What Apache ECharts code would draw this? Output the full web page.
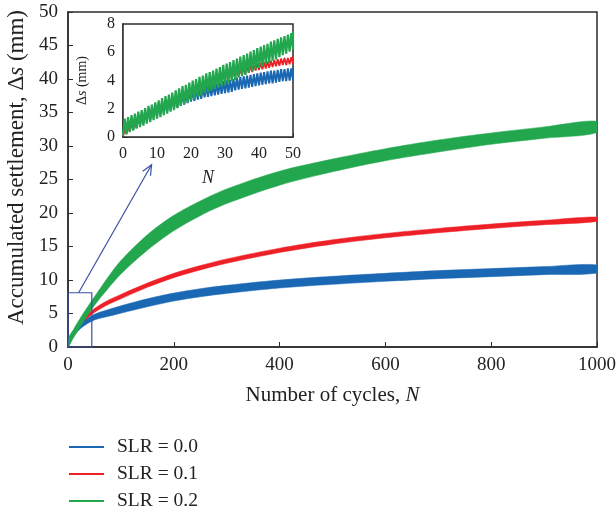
<!DOCTYPE html>
<html>
<head>
<meta charset="utf-8">
<script src="https://cdn.jsdelivr.net/npm/echarts@6/dist/echarts.min.js"></script>
<style>
  html, body { margin: 0; padding: 0; background: #fff; }
  #chart { width: 616px; height: 511px; }
</style>
</head>
<body>
<div id="chart"></div>
<script>
// main plot: band envelopes (lower / upper) read at these cycle counts
var mainN = [0, 10, 25, 50, 75, 100, 150, 200, 250, 300, 400, 500, 600, 700, 800, 900, 1000];
var greenLow = [0.0, 1.33, 3.25, 6.2, 8.65, 10.9, 14.45, 17.35, 19.6, 21.4, 24.15, 26.15, 27.8, 29.1, 30.25, 31.15, 32.0];
var greenUp = [1.2, 2.58, 4.55, 7.5, 10.35, 12.9, 16.75, 19.65, 21.8, 23.6, 26.25, 28.05, 29.6, 30.9, 31.95, 32.85, 33.7];
var redLow = [0.0, 1.7, 3.45, 5.15, 6.3, 7.2, 8.9, 10.35, 11.5, 12.5, 14.1, 15.35, 16.3, 17.05, 17.7, 18.25, 18.75];
var redUp = [0.55, 2.3, 4.05, 5.75, 6.95, 7.85, 9.55, 11.0, 12.15, 13.15, 14.75, 16.0, 16.95, 17.7, 18.35, 18.9, 19.4];
var blueLow = [0.0, 1.5, 2.85, 4.03, 4.55, 5.05, 6.0, 6.85, 7.5, 8.0, 8.8, 9.35, 9.8, 10.2, 10.5, 10.8, 11.05];
var blueUp = [1.0, 2.4, 3.65, 4.88, 5.55, 6.15, 7.2, 8.05, 8.7, 9.2, 10.0, 10.55, 11.0, 11.4, 11.7, 12.0, 12.25];

// inset: trough / peak of each cycle, N = 0..50
var gTrough = [0.1, 0.2, 0.35, 0.45, 0.6, 0.7, 0.8, 0.95, 1.05, 1.2, 1.3, 1.4, 1.55, 1.65, 1.8, 1.9, 2.05, 2.2, 2.3, 2.45, 2.6, 2.7, 2.85, 2.95, 3.1, 3.2, 3.3, 3.4, 3.5, 3.6, 3.7, 3.8, 3.95, 4.05, 4.2, 4.3, 4.4, 4.55, 4.65, 4.8, 4.9, 5.0, 5.15, 5.25, 5.4, 5.5, 5.65, 5.8, 5.9, 6.05, 6.2];
var gPeak = [1.3, 1.4, 1.55, 1.65, 1.8, 1.9, 2.05, 2.2, 2.3, 2.45, 2.6, 2.75, 2.9, 3.0, 3.15, 3.3, 3.45, 3.6, 3.7, 3.85, 4.0, 4.1, 4.25, 4.35, 4.5, 4.6, 4.7, 4.85, 4.95, 5.1, 5.2, 5.3, 5.45, 5.55, 5.7, 5.8, 5.9, 6.05, 6.15, 6.3, 6.4, 6.5, 6.6, 6.75, 6.85, 6.95, 7.05, 7.15, 7.25, 7.35, 7.45];
var bTrough = [0.1, 0.25, 0.4, 0.5, 0.65, 0.8, 0.95, 1.1, 1.2, 1.35, 1.5, 1.6, 1.7, 1.8, 1.9, 2.0, 2.1, 2.2, 2.3, 2.4, 2.5, 2.55, 2.65, 2.7, 2.8, 2.85, 2.9, 2.95, 3.0, 3.05, 3.1, 3.15, 3.2, 3.3, 3.35, 3.4, 3.45, 3.5, 3.55, 3.6, 3.65, 3.7, 3.75, 3.8, 3.8, 3.85, 3.9, 3.95, 3.95, 4.0, 4.05];
var bPeak = [1.0, 1.15, 1.3, 1.4, 1.55, 1.7, 1.85, 2.0, 2.1, 2.25, 2.4, 2.5, 2.6, 2.7, 2.8, 2.9, 3.0, 3.1, 3.15, 3.25, 3.3, 3.4, 3.45, 3.5, 3.6, 3.65, 3.7, 3.8, 3.85, 3.95, 4.0, 4.05, 4.1, 4.2, 4.25, 4.3, 4.35, 4.4, 4.45, 4.5, 4.55, 4.6, 4.65, 4.7, 4.7, 4.75, 4.8, 4.8, 4.85, 4.85, 4.9];
var rTrough = [0.05, 0.2, 0.4, 0.55, 0.75, 0.9, 1.05, 1.2, 1.4, 1.55, 1.7, 1.85, 2.0, 2.1, 2.25, 2.4, 2.5, 2.65, 2.75, 2.9, 3.0, 3.1, 3.2, 3.3, 3.4, 3.5, 3.6, 3.7, 3.8, 3.9, 4.0, 4.1, 4.15, 4.25, 4.3, 4.4, 4.45, 4.55, 4.6, 4.7, 4.75, 4.8, 4.85, 4.9, 4.95, 5.0, 5.05, 5.1, 5.1, 5.15, 5.2];
var rPeak = [0.6, 0.75, 0.95, 1.1, 1.3, 1.5, 1.65, 1.8, 2.0, 2.15, 2.3, 2.4, 2.55, 2.65, 2.8, 2.9, 3.0, 3.15, 3.25, 3.4, 3.5, 3.6, 3.7, 3.8, 3.9, 4.0, 4.1, 4.2, 4.3, 4.4, 4.5, 4.6, 4.65, 4.75, 4.8, 4.9, 4.95, 5.05, 5.1, 5.2, 5.25, 5.3, 5.35, 5.4, 5.45, 5.5, 5.55, 5.6, 5.6, 5.65, 5.7];

var names = ['SLR = 0.0', 'SLR = 0.1', 'SLR = 0.2'];
var colors = ['#1a67b3', '#ee2027', '#22a74f'];

// zoom box on the main plot and the arrow pointing to the inset (data units)
var zoomBox = [45, 8.1];
var arrowFrom = [20, 8.1];
var arrowTo = [158, 27.2];

var FONT = '"Liberation Serif", "DejaVu Serif", serif';
var AXIS = '#2b2b2b';

function zigzag(trough, peak) {
    var pts = [];
    for (var i = 0; i < trough.length; i++) {
        pts.push([i, trough[i]]);
        pts.push([Math.min(i + 0.5, 50), peak[i]]);
    }
    return pts;
}

// closed outline: upper edge forwards, lower edge back
function band(lower, upper, color) {
    return function (params, api) {
        var pts = [];
        for (var i = 0; i < mainN.length; i++) {
            pts.push(api.coord([mainN[i], upper[i]]));
        }
        for (var j = mainN.length - 1; j >= 0; j--) {
            pts.push(api.coord([mainN[j], lower[j]]));
        }
        return {
            type: 'polygon',
            shape: {points: pts, smooth: 0.3},
            style: {fill: color, stroke: color, lineWidth: 0.5}
        };
    };
}

function annotation(params, api) {
    var c = '#3b4fa3';
    var p0 = api.coord([0, 0]);
    var p1 = api.coord([zoomBox[0], 0]);
    var p2 = api.coord(zoomBox);
    var p3 = api.coord([0, zoomBox[1]]);
    var a = api.coord(arrowFrom);
    var b = api.coord(arrowTo);
    var ang = Math.atan2(b[1] - a[1], b[0] - a[0]);
    var len = 11, spread = 0.42;
    var h1 = [b[0] - len * Math.cos(ang - spread), b[1] - len * Math.sin(ang - spread)];
    var h2 = [b[0] - len * Math.cos(ang + spread), b[1] - len * Math.sin(ang + spread)];
    return {
        type: 'group',
        children: [
            {type: 'polyline', shape: {points: [p0, p1, p2, p3, p0]}, style: {stroke: c, lineWidth: 1.2, fill: null}},
            {type: 'line', shape: {x1: a[0], y1: a[1], x2: b[0], y2: b[1]}, style: {stroke: c, lineWidth: 1.2}},
            {type: 'polyline', shape: {points: [h1, b, h2]}, style: {stroke: c, lineWidth: 1.2, fill: null}}
        ]
    };
}

var chart = echarts.init(document.getElementById('chart'));

var tickLabel = {fontFamily: FONT, fontSize: 19, color: '#222'};
var insetLabel = {fontFamily: FONT, fontSize: 16, color: '#222'};
function plain(v) { return String(v); }

var series = [];
var envs = [[blueLow, blueUp], [redLow, redUp], [greenLow, greenUp]];
for (var k = 0; k < 3; k++) {
    series.push({
        name: names[k], type: 'custom', xAxisIndex: 0, yAxisIndex: 0, clip: true, data: [[0, 0]],
        itemStyle: {color: colors[k]}, renderItem: band(envs[k][0], envs[k][1], colors[k]), z: 2 + k, silent: true
    });
}
series.push({type: 'custom', xAxisIndex: 0, yAxisIndex: 0, data: [[0, 0]], renderItem: annotation, z: 6, silent: true});
var inset = [[bTrough, bPeak], [rTrough, rPeak], [gTrough, gPeak]];
var insetWidth = [2, 1.8, 2.2];
for (var m = 0; m < 3; m++) {
    series.push({
        name: names[m], type: 'line', xAxisIndex: 1, yAxisIndex: 1, data: zigzag(inset[m][0], inset[m][1]),
        showSymbol: false, symbol: 'none', lineStyle: {color: colors[m], width: insetWidth[m]}, z: 7 + m, silent: true
    });
}

chart.setOption({
    animation: false,
    backgroundColor: '#fff',
    textStyle: {fontFamily: FONT},
    grid: [
        {left: 68, right: 19, top: 12, bottom: 164, show: true, borderColor: AXIS, borderWidth: 1.5,
            outerBoundsMode: 'none', containLabel: false},
        {left: 123, right: 323, top: 24, bottom: 374, show: true, borderColor: AXIS, borderWidth: 1.5,
            backgroundColor: '#fff', z: 5, outerBoundsMode: 'none', containLabel: false}
    ],
    legend: {
        orient: 'vertical',
        left: 69,
        top: 437,
        height: 120,
        padding: 0,
        itemWidth: 35,
        itemHeight: 2,
        itemGap: 7,
        icon: 'rect',
        textStyle: {fontFamily: FONT, fontSize: 19.5, color: '#222', padding: [0, 0, 0, 8]},
        data: names.map(function (n, i) {
            return {name: n, itemStyle: {color: colors[i]}};
        })
    },
    xAxis: [
        {
            type: 'value', gridIndex: 0, min: 0, max: 1000, interval: 200,
            name: '{a|Number of cycles, }{i|N}',
            nameLocation: 'middle', nameGap: 38,
            nameTextStyle: {rich: {
                a: {fontFamily: FONT, fontSize: 21, color: '#222'},
                i: {fontFamily: FONT, fontSize: 21, color: '#222', fontStyle: 'italic'}
            }},
            axisLine: {lineStyle: {color: AXIS, width: 1.5}},
            axisTick: {inside: true, length: 5, lineStyle: {color: AXIS}},
            axisLabel: Object.assign({margin: 9, formatter: plain}, tickLabel),
            splitLine: {show: false}
        },
        {
            type: 'value', gridIndex: 1, min: 0, max: 50, interval: 10,
            name: 'N',
            nameLocation: 'middle', nameGap: 32,
            nameTextStyle: {fontFamily: FONT, fontSize: 18, fontStyle: 'italic', color: '#222'},
            axisLine: {lineStyle: {color: AXIS, width: 1.5}},
            axisTick: {inside: true, length: 4, lineStyle: {color: AXIS}},
            axisLabel: Object.assign({margin: 9, formatter: plain}, insetLabel),
            splitLine: {show: false}
        }
    ],
    yAxis: [
        {
            type: 'value', gridIndex: 0, min: 0, max: 50, interval: 5,
            name: '{a|Accumulated settlement, Δ}{i|s}{a| (mm)}',
            nameLocation: 'middle', nameGap: 37,
            nameTextStyle: {padding: [0, 0, 0, 24], rich: {
                a: {fontFamily: FONT, fontSize: 23, color: '#222'},
                i: {fontFamily: FONT, fontSize: 23, color: '#222', fontStyle: 'italic'}
            }},
            axisLine: {lineStyle: {color: AXIS, width: 1.5}},
            axisTick: {inside: true, length: 5, lineStyle: {color: AXIS}},
            axisLabel: Object.assign({margin: 10}, tickLabel),
            splitLine: {show: false}
        },
        {
            type: 'value', gridIndex: 1, min: 0, max: 8, interval: 2,
            name: '{a|Δ}{i|s}{a| (mm)}',
            nameLocation: 'middle', nameGap: 34,
            nameTextStyle: {rich: {
                a: {fontFamily: FONT, fontSize: 14, color: '#222'},
                i: {fontFamily: FONT, fontSize: 14, color: '#222', fontStyle: 'italic'}
            }},
            axisLine: {lineStyle: {color: AXIS, width: 1.5}},
            axisTick: {inside: true, length: 4, lineStyle: {color: AXIS}},
            axisLabel: Object.assign({margin: 8}, insetLabel),
            splitLine: {show: false}
        }
    ],
    series: series
});
</script>
</body>
</html>
